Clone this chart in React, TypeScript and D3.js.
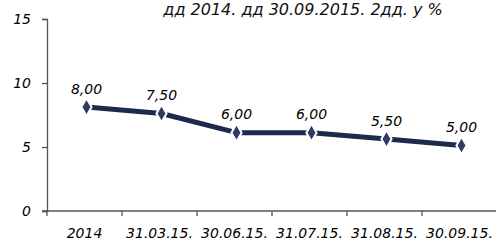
import React, { useRef, useEffect } from "react"
import * as d3 from "d3"

const categories = ["2014", "31.03.15.", "30.06.15.", "31.07.15.", "31.08.15.", "30.09.15."]
const values = [8.0, 7.5, 6.0, 6.0, 5.5, 5.0]
const labels = ["8,00", "7,50", "6,00", "6,00", "5,50", "5,00"]
const yTicks = [0, 5, 10, 15]
const title = "дд 2014. дд 30.09.2015. 2дд. у %"

export default function App() {
  const svgRef = useRef<SVGSVGElement>(null)

  useEffect(() => {
    const svg = d3.select(svgRef.current)
    svg.selectAll("*").remove()

    const width = 496
    const font = "'DejaVu Sans', sans-serif"

    var x = d3.scaleBand().domain(categories).range([47, 497])
    var y = d3.scaleLinear().domain([0, 15]).range([211, 19])

    // title (partly off the top edge in the scan)
    svg.append("text")
      .attr("x", 303).attr("y", 15)
      .attr("text-anchor", "middle")
      .attr("font-family", font).attr("font-style", "italic")
      .attr("font-size", "16px").attr("fill", "#111")
      .text(title)

    // y axis
    const yAxis = svg.append("g")
      .attr("transform", "translate(47,0)")
      .call(d3.axisLeft(y).tickValues(yTicks).tickSize(5).tickPadding(11).tickFormat(d => String(d)))
    yAxis.select(".domain").attr("stroke", "#555").attr("stroke-width", 1.3)
    yAxis.selectAll(".tick line").attr("stroke", "#555").attr("stroke-width", 1.3)
    yAxis.selectAll("text")
      .attr("font-family", font).attr("font-style", "italic")
      .attr("font-size", "14px").attr("fill", "#000")

    // x axis
    const xAxis = svg.append("g")
      .attr("transform", "translate(0," + y(0) + ")")
    xAxis.append("line")
      .attr("x1", 42).attr("x2", width).attr("y1", 0).attr("y2", 0)
      .attr("stroke", "#555").attr("stroke-width", 1.3)
    xAxis.selectAll("line.tk")
      .data(categories)
      .enter()
      .append("line")
      .attr("class", "tk")
      .attr("x1", d => x(d)!).attr("x2", d => x(d)!)
      .attr("y1", 0).attr("y2", 5)
      .attr("stroke", "#555").attr("stroke-width", 1.3)
    xAxis.selectAll("text")
      .data(categories)
      .enter()
      .append("text")
      .attr("x", d => x(d)! + x.bandwidth() / 2)
      .attr("y", 27)
      .attr("text-anchor", "middle")
      .attr("font-family", font).attr("font-style", "italic")
      .attr("font-size", "14px").attr("fill", "#000")
      .text(d => d)

    // line
    const px = (i: number) => x(categories[i])! + x.bandwidth() / 2 + 2
    const line = d3.line<number>()
      .x((d, i) => px(i))
      .y(d => y(d) - 1.5)
    svg.append("path")
      .datum(values)
      .attr("d", line)
      .attr("fill", "none")
      .attr("stroke", "#1c2a4e")
      .attr("stroke-width", 5)
      .attr("stroke-linejoin", "round")

    // markers
    const diamond = d3.symbol().type(d3.symbolDiamond).size(90)
    svg.selectAll("path.mk")
      .data(values)
      .enter()
      .append("path")
      .attr("class", "mk")
      .attr("d", diamond)
      .attr("transform", (d, i) => "translate(" + px(i) + "," + (y(d) - 1.5) + ")")
      .attr("fill", "#2f3b62")
      .attr("stroke", "#fff")
      .attr("stroke-width", 2)

    // data labels
    svg.selectAll("text.lbl")
      .data(values)
      .enter()
      .append("text")
      .attr("class", "lbl")
      .attr("x", (d, i) => px(i))
      .attr("y", d => y(d) - 15)
      .attr("text-anchor", "middle")
      .attr("font-family", font).attr("font-style", "italic")
      .attr("font-size", "14px").attr("fill", "#000")
      .text((d, i) => labels[i])
  }, [])

  return (
    <svg ref={svgRef} width={496} height={242}
      style={{ position: "absolute", left: 0, top: 0, background: "#fff" }}></svg>
  )
}
